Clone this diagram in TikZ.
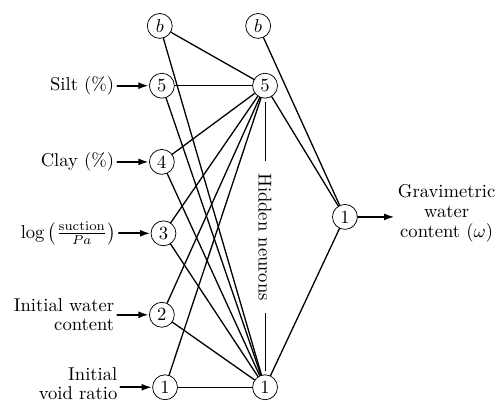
\documentclass[tikz,border=0pt]{standalone}
\usepackage{amsmath}
\usetikzlibrary{positioning, arrows.meta}
\providecommand{\FigScale}{1}

\tikzset{
	neuron/.style={circle, draw, thin, minimum size=13.4pt, inner sep=0.5pt},
	feed/.style={-{Latex[length=2mm,width=1.3mm]}, line width=1.1pt},
	wire/.style={line width=0.7pt},
	inlabel/.style={align=right, inner sep=1.5pt, font=\linespread{0.88}\selectfont},
}

\begin{document}
\begin{tikzpicture}[scale=\FigScale, line cap=round, line join=round]

\useasboundingbox (0,0) rectangle (9.47,-7.58);

% input layer
\node[neuron] (ib) at (3.02,-0.49) {$b$};
\node[neuron] (i5) at (3.06,-1.62) {5};
\node[neuron] (i4) at (3.06,-3.06) {4};
\node[neuron] (i3) at (3.09,-4.41) {3};
\node[neuron] (i2) at (3.06,-5.95) {2};
\node[neuron] (i1) at (3.12,-7.32) {1};

\node[inlabel, left=0.6cm of i5] (silt) {Silt (\%)};
\node[inlabel, left=0.6cm of i4] (clay) {Clay (\%)};
\node[inlabel, left=0.6cm of i3] (suct) {$\log\big(\frac{\mathrm{suction}}{Pa}\big)$};
\node[inlabel, left=0.6cm of i2] (iwc) {Initial water\\content};
\node[inlabel, left=0.6cm of i1, yshift=2pt] (ivr) {Initial\\void ratio};

\draw[feed] (silt) -- (i5);
\draw[feed] (clay) -- (i4);
\draw[feed] (suct) -- (i3);
\draw[feed] (iwc) -- (i2);
\draw[feed] (ivr.east |- i1) -- (i1);

% hidden layer
\node[neuron] (hb) at (4.88,-0.49) {$b$};
\node[neuron] (h5) at (5.01,-1.62) {5};
\node[neuron] (h1) at (5.01,-7.32) {1};

\node[rotate=-90, inner xsep=6.5pt] (hid) at (5.01,-4.48) {Hidden neurons};
\draw[thin, shorten <=2pt] (h5) -- (hid);
\draw[thin, shorten >=2pt] (hid) -- (h1);

\foreach \i in {b,5,4,3,2,1} {
	\draw[wire] (i\i) -- (h5);
	\draw[wire] (i\i) -- (h1);
}

% output layer
\node[neuron] (o1) at (6.52,-4.10) {1};
\node[inlabel, align=center, right=0.7cm of o1, yshift=2pt] (gwc) {Gravimetric\\water\\content ($\omega$)};

\foreach \h in {hb,h5,h1}
	\draw[wire] (\h) -- (o1);

\draw[feed] (o1) -- (gwc.west |- o1);

\end{tikzpicture}
\end{document}
